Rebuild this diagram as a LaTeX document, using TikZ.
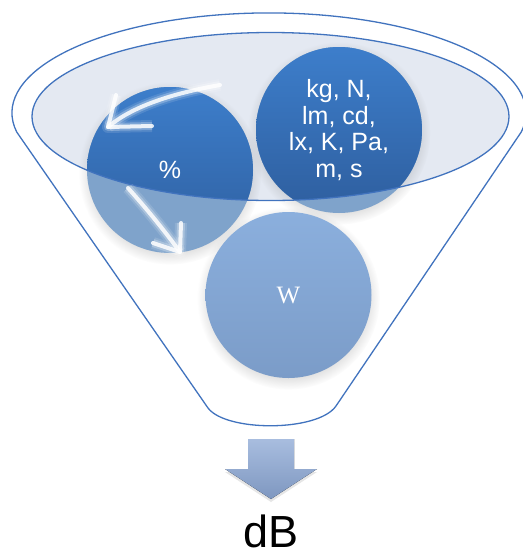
\documentclass[tikz,border=0pt]{standalone}
\usepackage{fontspec}
\setmainfont{Liberation Sans}
\newfontfamily\romanW{Liberation Serif}
\usetikzlibrary{positioning,shadows}

\definecolor{rimline}{HTML}{4173BE}
\definecolor{rimfill}{HTML}{E4E9F2}
\definecolor{balltop}{HTML}{3D7ECB}
\definecolor{ballbot}{HTML}{2E5E9E}
\definecolor{ballpale}{HTML}{7FA3CB}
\definecolor{wtop}{HTML}{8BAFDD}
\definecolor{wbot}{HTML}{7B9CC8}
\definecolor{droptop}{HTML}{A8BDDF}
\definecolor{dropbot}{HTML}{7E97C0}

\begin{document}
\begin{tikzpicture}[x=1pt,y=-1pt,line join=round,
  ball/.style={circle,minimum size=166pt,inner sep=0pt,align=center,text=white,
    font=\fontsize{25}{26.7}\selectfont,
    circular drop shadow={shadow xshift=0pt,shadow yshift=-3pt,opacity=.25}},
  rimside/.style={draw=rimline,line width=1.3pt},
  swirl/.style={draw=white,line width=4pt,line cap=round,opacity=.85,
    preaction={draw=white,line width=12pt,opacity=.12},
    preaction={draw=white,line width=8pt,opacity=.25}},
  darkpart/.style={path picture={
    \clip (rimc) ellipse[x radius=238.5,y radius=84];
    \fill[top color=balltop,bottom color=ballbot]
      (path picture bounding box.north west) rectangle (path picture bounding box.south east);}}]
\useasboundingbox (0,0) rectangle (523,558);
\coordinate (rimc) at (270.5,116.5);

% funnel body
\draw[rimside,fill=white] (16.7,132) arc[start angle=169,end angle=371,x radius=257,y radius=100]
  -- (336,406) .. controls (318,432) and (226,432) .. (208,408) -- cycle;
\fill[rimfill] (rimc) ellipse[x radius=238.5,y radius=84];

% the three units
\node[ball,fill=ballpale,darkpart] (pct) at (170,170) {\%};
\node[ball,fill=ballpale,darkpart] (units) at (339,130) {kg, N,\\lm, cd,\\lx, K, Pa,\\m, s};
\node[ball,top color=wtop,bottom color=wbot,font=\romanW\fontsize{25}{27}\selectfont] (watt) at (288.5,295) {W};

\draw[rimside] (rimc) ellipse[x radius=238.5,y radius=84];

% white swirls on the % ball
\draw[swirl] (220,85) .. controls (180,92) and (135,104) .. (108,127);
\draw[swirl] (116,95) -- (108,127) -- (152,126);
\draw[swirl] (128,188) .. controls (146,208) and (164,230) .. (180,252);
\draw[swirl] (153,243) -- (180,252) -- (181,223);

% outlet
\fill[top color=droptop,bottom color=dropbot,drop shadow={shadow xshift=0pt,shadow yshift=-3pt,opacity=.2}]
  (248,439) -- (294,439) -- (294,469) -- (317,469) -- (271,499) -- (225,469) -- (248,469) -- cycle;
\node[font=\fontsize{45}{47}\selectfont,inner sep=0pt,anchor=base] (level) at (271,547) {dB};
\end{tikzpicture}
\end{document}
